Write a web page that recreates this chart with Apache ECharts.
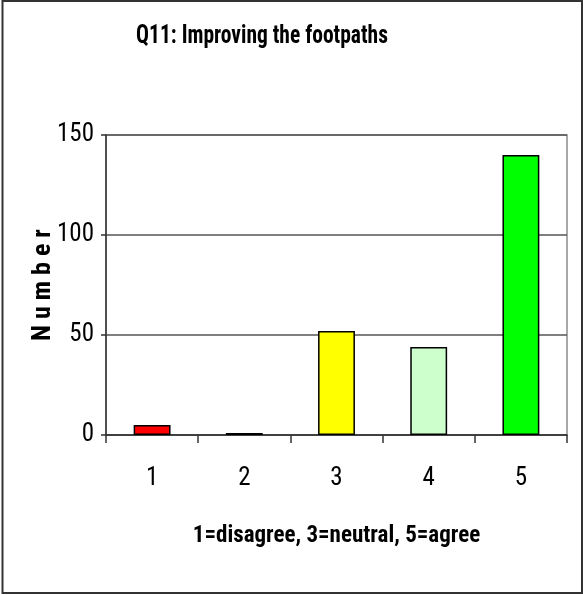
<!DOCTYPE html>
<html>
<head>
<meta charset="utf-8">
<script src="https://cdn.jsdelivr.net/npm/echarts@6/dist/echarts.min.js"></script>
<style>
html,body{margin:0;padding:0;background:#fff;}
#c{width:583px;height:595px;}
</style>
</head>
<body>
<div id="c"></div>
<script>
const categories = ['1', '2', '3', '4', '5'];
const values = [5, 1, 52, 44, 140];
const barColors = ['#FF0000', '#000000', '#FFFF00', '#CCFFCC', '#00FF00'];
const yTicks = [0, 50, 100, 150];
const titleText = 'Q11: Improving the footpaths';

const FONT = '"Roboto Condensed", "Liberation Sans", Arial, sans-serif';
const chart = echarts.init(document.getElementById('c'), null, {renderer: 'canvas'});
chart.setOption({
  animation: false,
  backgroundColor: '#fff',
  grid: {left: 106, right: 16, top: 135, bottom: 160, show: true, borderColor: '#8c8c8c', borderWidth: 1.5, backgroundColor: 'transparent'},
  xAxis: {
    type: 'category',
    data: categories,
    name: '1=disagree, 3=neutral, 5=agree',
    nameLocation: 'middle',
    nameGap: 90,
    nameTextStyle: {fontFamily: FONT, fontWeight: 'bold', fontSize: 23, color: '#000'},
    axisLine: {lineStyle: {color: '#333', width: 1.5}},
    axisTick: {show: true, length: 8, lineStyle: {color: '#333', width: 1.5}},
    axisLabel: {fontFamily: FONT, fontSize: 25, color: '#000', margin: 31}
  },
  yAxis: {
    type: 'value',
    min: yTicks[0], max: yTicks[yTicks.length - 1], interval: 50,
    name: 'N u m b e r',
    nameLocation: 'middle',
    nameMoveOverlap: false,
    nameGap: 63,
    nameTextStyle: {fontFamily: FONT, fontWeight: 'bold', fontSize: 26, color: '#000', verticalAlign: 'middle'},
    axisLine: {show: true, lineStyle: {color: '#333', width: 1.5}},
    axisTick: {show: true, length: 5, lineStyle: {color: '#333', width: 1.5}},
    axisLabel: {fontFamily: FONT, fontSize: 25, color: '#000', margin: 12},
    splitLine: {show: true, lineStyle: {color: '#555', width: 1.5}}
  },
  series: [{
    type: 'bar',
    data: values.map((v, i) => ({value: v, itemStyle: {color: barColors[i]}})),
    barWidth: '40%',
    itemStyle: {borderColor: '#000', borderWidth: 1.5}
  }],
  graphic: [{
    type: 'rect',
    shape: {x: 2.5, y: 1, width: 579.5, height: 592},
    style: {fill: 'none', stroke: '#333', lineWidth: 2},
    silent: true
  }, {
    type: 'text',
    x: 262, y: 37, scaleX: 0.86,
    style: {text: titleText, fontFamily: FONT, fontWeight: 'bold', fontSize: 25, fill: '#000', align: 'center', verticalAlign: 'middle'},
    silent: true
  }]
});
</script>
</body>
</html>
